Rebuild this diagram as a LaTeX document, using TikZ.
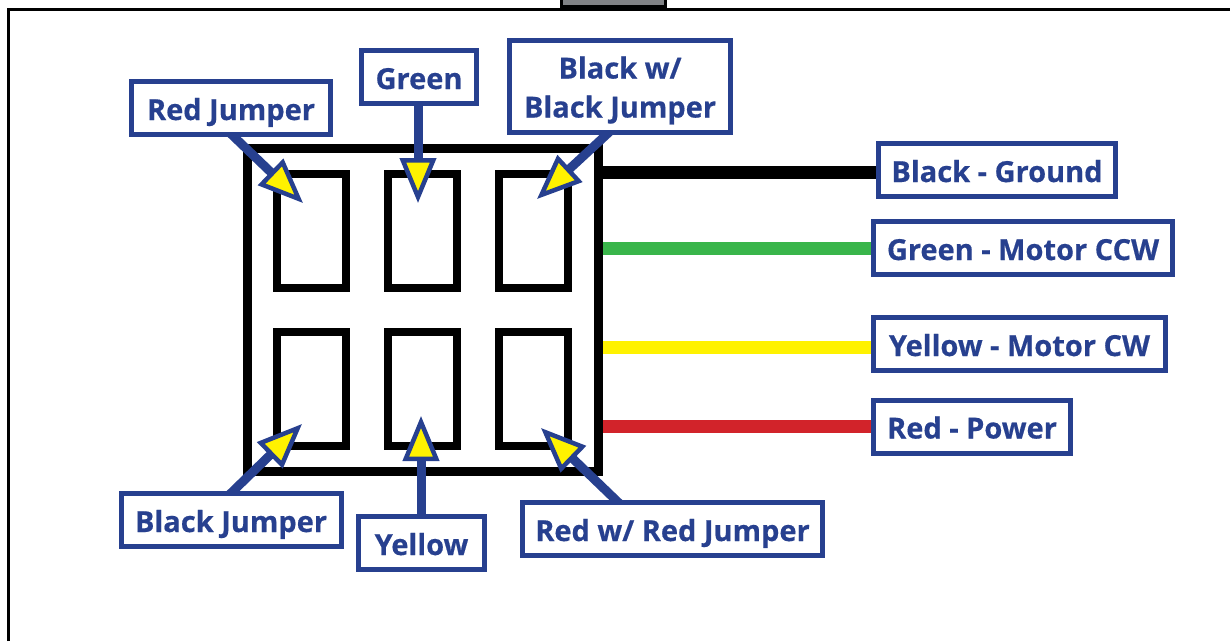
\documentclass[tikz,border=0pt]{standalone}
\usepackage{fontspec}
\setmainfont[BoldFeatures={FakeBold=0.5}]{Open Sans}
\usetikzlibrary{arrows.meta}
\pgfdeclarelayer{top}
\pgfsetlayers{main,top}
\definecolor{navy0}{HTML}{27408F}
\definecolor{yel0}{HTML}{FFF200}
\definecolor{grn0}{HTML}{39B54A}
\definecolor{red0}{HTML}{D2232A}
\definecolor{gray0}{HTML}{808285}
\tikzset{
 x=1pt,y=-1pt,
 lab/.style={draw=navy0,line width=5pt,fill=white,text=navy0,font=\fontsize{29}{39}\selectfont\bfseries,inner sep=0pt,align=center,minimum height=53pt},
 one/.style={text height=24pt,text depth=0pt},
 socket/.style={draw=black,line width=8pt,minimum width=69pt,minimum height=114pt,inner sep=0pt},
 wire/.style={line width=13pt},
 callout/.style={draw=navy0,line width=9pt,-{Triangle[length=45pt,width=36pt,fill=yel0,line width=4.5pt]}},
}
\begin{document}
\begin{tikzpicture}
\useasboundingbox (0,0) rectangle (1230,641);
% page frame
\draw[line width=3pt] (8,641) -- (8,9.5) -- (1230,9.5);
\draw[fill=gray0,line width=3pt] (561.5,-2) rectangle (665.5,6.5);
% housing
\node[draw=black,line width=9pt,minimum width=351pt,minimum height=323pt,inner sep=0pt] (housing) at (423,310) {};
\node[socket] (s1) at (311.5,230.5) {};
\node[socket] (s2) at (422,230.5) {};
\node[socket] (s3) at (533,230.5) {};
\node[socket] (s4) at (311.5,388.5) {};
\node[socket] (s5) at (422,388.5) {};
\node[socket] (s6) at (533,388.5) {};
% labels
\begin{pgfonlayer}{top}
\node[lab,one,minimum width=199pt] (redj) at (231,108) {Red Jumper};
\node[lab,one,minimum width=115pt] (green) at (419,77) {Green};
\node[lab,minimum width=221pt,minimum height=92pt] (blackb) at (620,86) {\rule{0pt}{31pt}Black w/\\Black Jumper};
\node[lab,one,minimum width=220pt] (blackj) at (231,520) {Black Jumper};
\node[lab,one,minimum width=126pt] (yellow) at (421.5,543) {Yellow};
\node[lab,one,minimum width=300pt] (redr) at (672.5,529) {Red w/ Red Jumper};
\node[lab,one,minimum width=237pt] (lg) at (997,170) {Black - Ground};
\node[lab,one,minimum width=299pt] (lc) at (1023,248) {Green - Motor CCW};
\node[lab,one,minimum width=292pt] (lw) at (1019.5,344) {Yellow - Motor CW};
\node[lab,one,minimum width=197pt] (lp) at (972,426.5) {Red - Power};
\end{pgfonlayer}
% wires
\coordinate (wg) at (603,172);
\coordinate (wc) at (603,248.5);
\coordinate (wy) at (603,347);
\coordinate (wr) at (603,426.5);
\draw[wire,black] (wg) -- (wg -| lg.west);
\draw[wire,grn0] (wc) -- (wc -| lc.west);
\draw[wire,yel0] (wy) -- (wy -| lw.west);
\draw[wire,red0] (wr) -- (wr -| lp.west);
% callouts
\coordinate (t1) at (303,203);
\coordinate (t2) at (418,203);
\coordinate (t3) at (537,199);
\coordinate (t4) at (302,424);
\coordinate (t5) at (421,416);
\coordinate (t6) at (541,428);
\draw[callout] ([xshift=-2pt,yshift=5pt]redj.south) -- (t1);
\draw[callout] (green.south -| t2) -- (t2);
\draw[callout] ([xshift=-8pt,yshift=5pt]blackb.south) -- (t3);
\draw[callout] ([xshift=-3pt,yshift=-5pt]blackj.north) -- (t4);
\draw[callout] (yellow.north -| t5) -- (t5);
\draw[callout] ([xshift=-51.5pt,yshift=-5pt]redr.north) -- (t6);
\end{tikzpicture}
\end{document}
